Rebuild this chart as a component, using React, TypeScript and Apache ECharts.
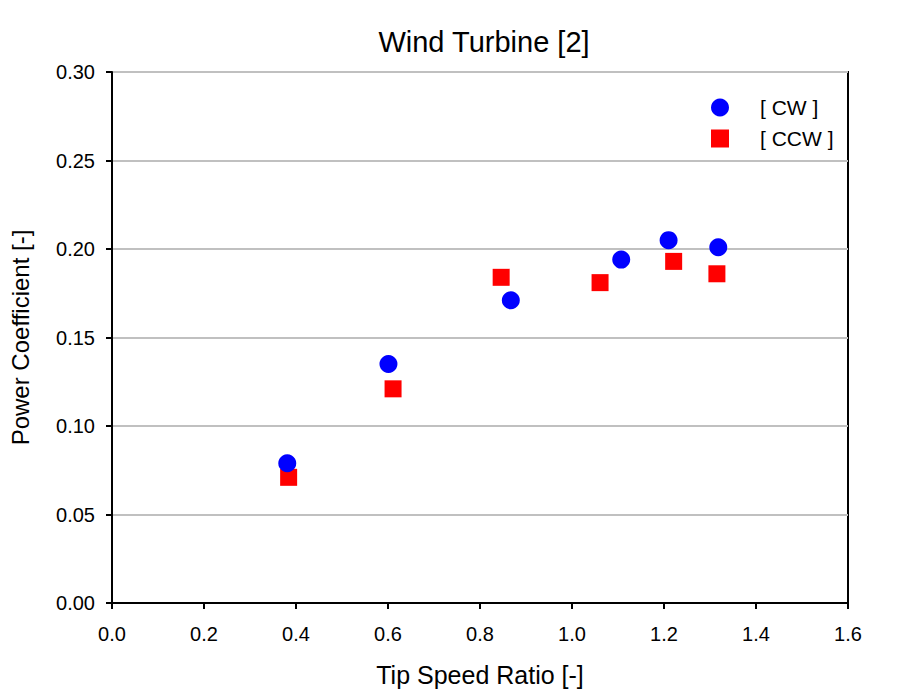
import React, { useEffect, useRef } from "react";
import * as echarts from "echarts";

const cwX = [0.381, 0.601, 0.867, 1.107, 1.21, 1.318];
const cwY = [0.079, 0.135, 0.171, 0.194, 0.205, 0.201];
const ccwX = [0.384, 0.611, 0.846, 1.061, 1.221, 1.315];
const ccwY = [0.071, 0.121, 0.184, 0.181, 0.193, 0.186];

const FONT = "'Liberation Sans', Arial, sans-serif";

export default function App() {
  const ref = useRef<HTMLDivElement>(null);
  useEffect(() => {
    if (!ref.current) return;
    const chart = echarts.init(ref.current, null, { renderer: "svg" });
    chart.setOption({
      animation: false,
      backgroundColor: "#ffffff",
      title: {
        text: "Wind Turbine [2]",
        left: 479,
        top: 22,
        textAlign: "center",
        textStyle: { fontFamily: FONT, fontSize: 29, fontWeight: "normal", color: "#000" },
      },
      legend: {
        orient: "vertical",
        left: 706,
        top: 92,
        itemWidth: 18,
        itemHeight: 18,
        itemGap: 10,
        textStyle: { fontFamily: FONT, fontSize: 21, color: "#000", padding: [0, 0, 0, 26] },
        data: [
          { name: "[ CW ]", icon: "circle" },
          { name: "[ CCW ]", icon: "rect" },
        ],
      },
      grid: {
        left: 110,
        right: 72,
        top: 72,
        bottom: 93,
        show: true,
        borderColor: "#000",
        borderWidth: 2,
        backgroundColor: "transparent",
      },
      xAxis: {
        type: "value",
        min: 0,
        max: 1.6,
        interval: 0.2,
        name: "Tip Speed Ratio [-]",
        nameLocation: "middle",
        nameGap: 59,
        nameTextStyle: { fontFamily: FONT, fontSize: 25, color: "#000" },
        axisLine: { show: true, lineStyle: { color: "#000", width: 2 } },
        axisTick: { show: true, length: 6, lineStyle: { color: "#000", width: 2 } },
        axisLabel: {
          fontFamily: FONT,
          fontSize: 20,
          color: "#000",
          margin: 21,
          formatter: (v: number) => v.toFixed(1),
        },
        splitLine: { show: false },
      },
      yAxis: {
        type: "value",
        min: 0,
        max: 0.3,
        interval: 0.05,
        name: "Power Coefficient [-]",
        nameLocation: "middle",
        nameGap: 80,
        nameTextStyle: { fontFamily: FONT, fontSize: 24, color: "#000" },
        axisLine: { show: true, lineStyle: { color: "#000", width: 2 } },
        axisTick: { show: true, length: 6, lineStyle: { color: "#000", width: 2 } },
        axisLabel: {
          fontFamily: FONT,
          fontSize: 20,
          color: "#000",
          margin: 17,
          formatter: (v: number) => v.toFixed(2),
        },
        splitLine: { show: true, lineStyle: { color: "#c0c0c0", width: 2 } },
      },
      series: [
        {
          name: "[ CW ]",
          type: "scatter",
          symbol: "circle",
          symbolSize: 18,
          itemStyle: { color: "#0000ff", opacity: 1 },
          data: cwX.map((x, i) => [x, cwY[i]]),
          z: 3,
        },
        {
          name: "[ CCW ]",
          type: "scatter",
          symbol: "rect",
          symbolSize: 17,
          itemStyle: { color: "#ff0000", opacity: 1 },
          data: ccwX.map((x, i) => [x, ccwY[i]]),
          z: 2,
        },
      ],
    });
    return () => chart.dispose();
  }, []);
  return <div ref={ref} style={{ width: 920, height: 696, position: "absolute", left: 0, top: 0 }} />;
}
